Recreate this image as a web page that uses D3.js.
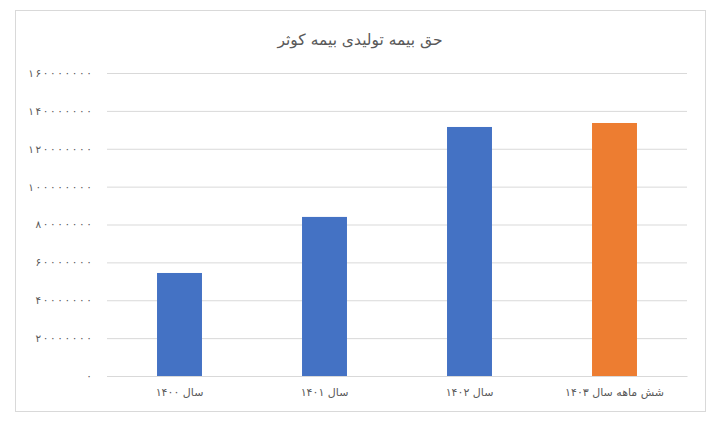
<!DOCTYPE html>
<html>
<head>
<meta charset="utf-8">
<script src="https://cdn.jsdelivr.net/npm/d3@7"></script>
<style>
  html, body { margin: 0; padding: 0; background: #fff; }
  svg { display: block; }
</style>
</head>
<body>
<div id="chart"></div>
<script>
const title = "حق بیمه تولیدی بیمه کوثر";
const categories = ["سال ۱۴۰۰", "سال ۱۴۰۱", "سال ۱۴۰۲", "شش ماهه سال ۱۴۰۳"];
const values = [54400000, 84000000, 131500000, 133600000];
const barColors = ["#4472C4", "#4472C4", "#4472C4", "#ED7D31"];
const yTicks = [0, 20000000, 40000000, 60000000, 80000000, 100000000, 120000000, 140000000, 160000000];

const W = 717, H = 426;
const margin = { left: 107, right: 30, top: 73, bottom: 50 };
const plotW = 687 - 107, plotH = 376 - 73;

const toPersian = s => String(s).replace(/[0-9]/g, d => "۰۱۲۳۴۵۶۷۸۹"[+d]);

const svg = d3.select("#chart").append("svg")
  .attr("width", W).attr("height", H);

svg.append("rect")
  .attr("x", 15.5).attr("y", 10.5).attr("width", 690).attr("height", 401)
  .attr("fill", "#fff").attr("stroke", "#d9d9d9").attr("stroke-width", 1);

svg.append("text")
  .attr("x", 360).attr("y", 45)
  .attr("text-anchor", "middle")
  .attr("direction", "rtl")
  .attr("font-family", "DejaVu Sans, sans-serif")
  .attr("font-size", 15.5)
  .attr("fill", "#595959")
  .text(title);

const g = svg.append("g").attr("transform", `translate(${margin.left},${margin.top})`);

const x = d3.scaleBand().domain(categories).range([0, plotW]).paddingInner(0.69).paddingOuter(0.345);
const y = d3.scaleLinear().domain([0, 160000000]).range([plotH, 0]);

// gridlines
const yAxis = d3.axisLeft(y).tickValues(yTicks).tickSize(-plotW).tickFormat(d => toPersian(d));
const ya = g.append("g").call(yAxis);
ya.select(".domain").remove();
ya.selectAll(".tick line").attr("stroke", "#d9d9d9").attr("stroke-width", 1);
ya.selectAll(".tick text")
  .attr("x", -15)
  .attr("font-family", "DejaVu Sans, sans-serif")
  .attr("font-size", 10.5)
  .attr("fill", "#595959")
  .each(function(d) {
    const s = toPersian(d);
    if (s.length > 1) d3.select(this).attr("textLength", s.length * 7.3 - 2).attr("lengthAdjust", "spacing");
  });

// bars
g.selectAll(".bar").data(values).enter().append("rect")
  .attr("x", (d, i) => x(categories[i]))
  .attr("width", x.bandwidth())
  .attr("y", d => y(d))
  .attr("height", d => plotH - y(d))
  .attr("fill", (d, i) => barColors[i]);

// x axis
const xAxis = d3.axisBottom(x).tickSize(0).tickPadding(12);
const xa = g.append("g").attr("transform", `translate(0,${plotH})`).call(xAxis);
xa.select(".domain").attr("stroke", "#d9d9d9");
xa.selectAll(".tick text")
  .attr("direction", "rtl")
  .attr("font-family", "DejaVu Sans, sans-serif")
  .attr("font-size", 11)
  .attr("fill", "#595959");
</script>
</body>
</html>
